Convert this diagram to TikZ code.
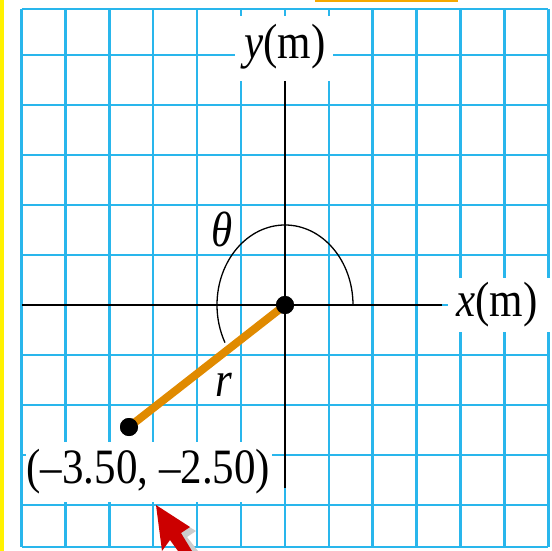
\documentclass[tikz,border=0pt]{standalone}
\usepackage{fontspec}
\setmainfont{Liberation Serif}
\definecolor{gridblue}{RGB}{41,182,236}
\definecolor{rodorange}{RGB}{224,138,0}
\definecolor{toporange}{RGB}{245,168,0}
\definecolor{arrowred}{RGB}{204,0,0}
\newcommand{\lbl}[1]{\scalebox{1}[1.15]{\fontsize{43}{50}\selectfont #1}}
\begin{document}
\begin{tikzpicture}[x=1pt,y=-1pt,
  gridline/.style={draw=gridblue,line width=2.5pt},
  axisline/.style={draw=black,line width=2.2pt},
  mask/.style={fill=white,draw=none},
  txt/.style={inner sep=0pt,text=black},
  dotnode/.style={circle,fill=black,minimum size=18pt,inner sep=0pt}]
\useasboundingbox[fill=white] (0,0) rectangle (552,551);
% yellow strip and orange top bar
\fill[yellow] (0,0) rectangle (3.5,551);
\fill[toporange] (315,0) rectangle (458,2.2);
% grid
\foreach \i in {0,...,12} {
  \draw[gridline] ({21.5+43.9*\i},9) -- ({21.5+43.9*\i},547);
}
\foreach \j in {0,...,9} {
  \draw[gridline] (21.5,{55+50*\j}) -- (548.3,{55+50*\j});
}
\draw[gridline] (21.5,9) -- (548.3,9);
\draw[gridline] (21.5,547) -- (548.3,547);
% label masks
\fill[mask] (235,16) rectangle (333,81);
\fill[mask] (448,278) rectangle (552,332);
\fill[mask] (26,442) rectangle (272,502);
% axes
\coordinate (xs) at (22,305);
\coordinate (xe) at (442,305);
\coordinate (ys) at (285,81);
\coordinate (ye) at (285,488);
\draw[axisline] (xs) -- (xe);
\draw[axisline] (ys) -- (ye);
% angle arc
\draw[black,line width=1.3pt] (353,305) arc[start angle=0,end angle=-208,x radius=68,y radius=80];
% rod
\node[dotnode] (O) at (285,305) {};
\node[dotnode] (P) at (129,427) {};
\draw[rodorange,line width=8pt] (O.center) -- (P.center);
\node[dotnode] at (O.center) {};
\node[dotnode] at (P.center) {};
% labels
\node[txt] (ylab) at (285,47) {\lbl{\textit{y}(m)}};
\node[txt] (xlab) at (497,305) {\lbl{\textit{x}(m)}};
\node[txt] (plab) at (148.5,472) {\lbl{(–3.50, –2.50)}};
\node[txt] (th) at (222,229) {\lbl{\textit{θ}}};
\node[txt] (rl) at (224,385) {\lbl{\textit{r}}};
% red pointer
\fill[gray!40] (160,509) -- (196,531) -- (187,537) -- (198,551) -- (182,551) -- cycle;
\fill[arrowred] (156,505) -- (190,527) -- (181,533) -- (192,551) -- (178,551) -- (170,540) -- (162,551) -- cycle;
\end{tikzpicture}
\end{document}
